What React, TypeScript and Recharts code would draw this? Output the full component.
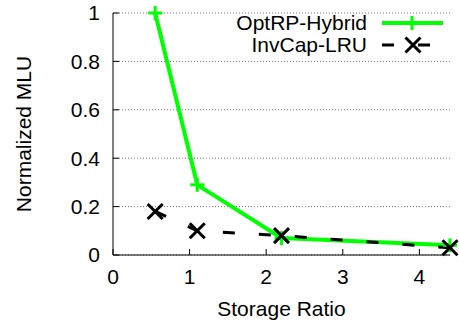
import React from 'react';
import { LineChart, Line, XAxis, YAxis, CartesianGrid } from 'recharts';

const storageRatio = [0.55, 1.1, 2.2, 4.4];
const optRpHybrid = [1, 0.29, 0.07, 0.04];
const invCapLru = [0.18, 0.1, 0.08, 0.03];
const xTicks = [0, 1, 2, 3, 4];
const yTicks = [0, 0.2, 0.4, 0.6, 0.8, 1];

const GREEN = '#00ff00';
const FONT = '"Liberation Sans", Arial, Helvetica, sans-serif';
const FS = 21;

const data = storageRatio.map((x, i) => ({
  x,
  opt: optRpHybrid[i],
  inv: invCapLru[i],
}));

const Plus = ({ cx, cy, r = 7, color = GREEN }: any) => (
  <g>
    <line x1={cx - r} y1={cy} x2={cx + r} y2={cy} stroke={color} strokeWidth={3} />
    <line x1={cx} y1={cy - r} x2={cx} y2={cy + r} stroke={color} strokeWidth={3} />
  </g>
);

const Cross = ({ cx, cy, r = 7.5, color = '#000' }: any) => (
  <g>
    <line x1={cx - r} y1={cy - r} x2={cx + r} y2={cy + r} stroke={color} strokeWidth={3} />
    <line x1={cx - r} y1={cy + r} x2={cx + r} y2={cy - r} stroke={color} strokeWidth={3} />
  </g>
);

const YTick = ({ x, y, payload }: any) => (
  <g>
    <line x1={x} y1={y} x2={x + 6} y2={y} stroke="#000" strokeWidth={1} />
    <text x={x - 13} y={y} dy="0.35em" textAnchor="end" fontSize={FS} fill="#000" fontFamily={FONT}>
      {payload.value}
    </text>
  </g>
);

const XTick = ({ x, y, payload }: any) => (
  <g>
    <line x1={x} y1={y} x2={x} y2={y - 6} stroke="#000" strokeWidth={1} />
    <text x={x} y={y + 22} dy="0.35em" textAnchor="middle" fontSize={FS} fill="#000" fontFamily={FONT}>
      {payload.value}
    </text>
  </g>
);

// key in the top-right corner of the plot, laid over the chart
const Key = () => (
  <svg width={459} height={60} style={{ position: 'absolute', left: 0, top: 0, pointerEvents: 'none' }}>
    <text x={367} y={23} dy="0.35em" textAnchor="end" fontSize={FS} fontFamily={FONT} fill="#000">
      OptRP-Hybrid
    </text>
    <line x1={382} y1={23} x2={443} y2={23} stroke={GREEN} strokeWidth={4} />
    <Plus cx={412} cy={23} />
    <text x={367} y={45} dy="0.35em" textAnchor="end" fontSize={FS} fontFamily={FONT} fill="#000">
      InvCap-LRU
    </text>
    <line x1={382} y1={45} x2={443} y2={45} stroke="#000" strokeWidth={3} strokeDasharray="12 24" />
    <Cross cx={413} cy={45} />
  </svg>
);

export default function App() {
  return (
    <div style={{ position: 'absolute', left: 0, top: 0, width: 459, height: 324, background: '#fff' }}>
      <LineChart width={459} height={324} data={data} margin={{ top: 13, right: 9, left: 0, bottom: 0 }}>
        <CartesianGrid vertical={false} stroke="#777" strokeDasharray="1 2" />
        <XAxis
          dataKey="x"
          type="number"
          domain={[0, 4.4]}
          ticks={xTicks}
          height={69}
          tickLine={false}
          tickSize={0}
          tickMargin={0}
          tick={<XTick />}
          stroke="#000"
          label={{ value: 'Storage Ratio', position: 'insideBottom', offset: 8, fontSize: FS, fill: '#000', fontFamily: FONT }}
        />
        <YAxis
          type="number"
          domain={[0, 1]}
          ticks={yTicks}
          width={113}
          tickLine={false}
          tickSize={0}
          tickMargin={0}
          tick={<YTick />}
          stroke="#000"
          label={{
            value: 'Normalized MLU',
            angle: -90,
            position: 'insideLeft',
            offset: 24,
            fontSize: FS,
            fill: '#000',
            fontFamily: FONT,
            style: { textAnchor: 'middle' },
          }}
        />
        <Line
          dataKey="opt"
          stroke={GREEN}
          strokeWidth={4}
          isAnimationActive={false}
          dot={(p: any) => <Plus key={`opt-${p.index}`} cx={p.cx} cy={p.cy} />}
          activeDot={false}
        />
        <Line
          dataKey="inv"
          stroke="#000"
          strokeWidth={3}
          strokeDasharray="12 24"
          isAnimationActive={false}
          dot={(p: any) => <Cross key={`inv-${p.index}`} cx={p.cx} cy={p.cy} />}
          activeDot={false}
        />
      </LineChart>
      <Key />
    </div>
  );
}
